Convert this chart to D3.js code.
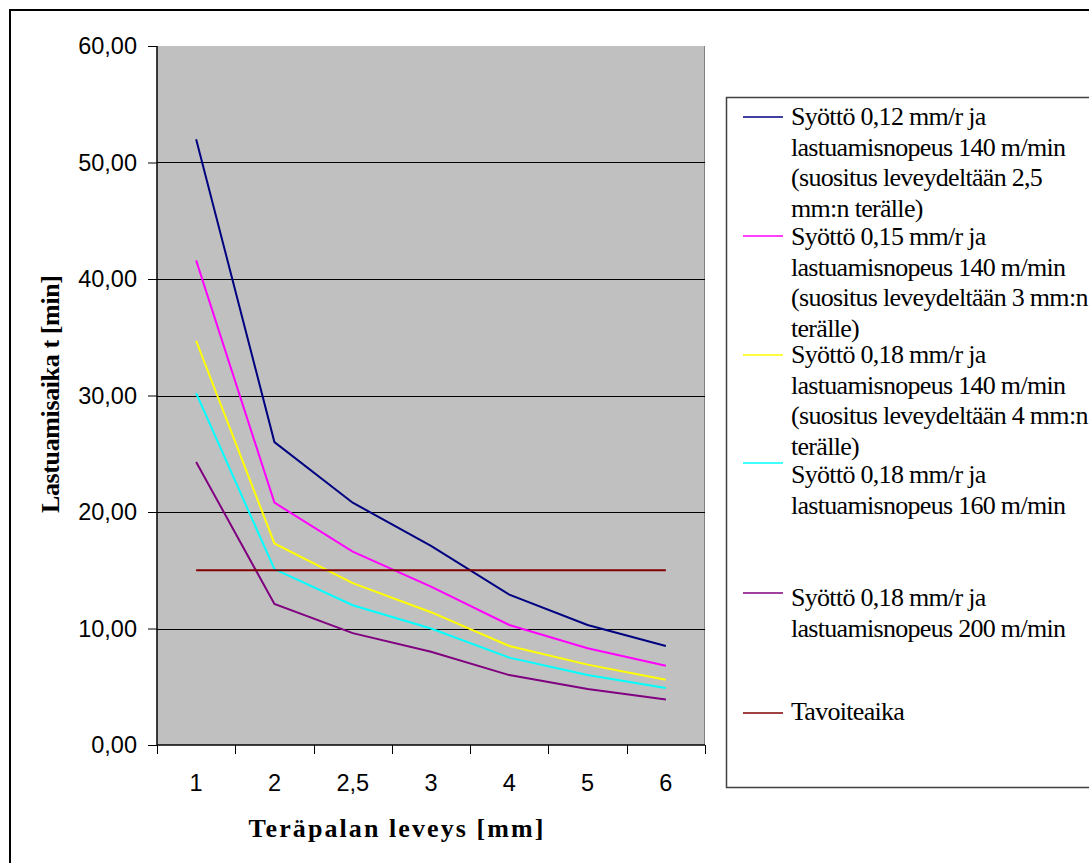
<!DOCTYPE html>
<html>
<head>
<meta charset="utf-8">
<script src="https://cdn.jsdelivr.net/npm/d3@7/dist/d3.min.js"></script>
<style>
  html, body { margin: 0; padding: 0; background: #fff; overflow: hidden; }
  svg { display: block; }
</style>
</head>
<body>
<script>
// Cutting time as a function of insert width
const widths = ["1", "2", "2,5", "3", "4", "5", "6"];
const feed012v140 = [52.0, 26.0, 20.8, 17.1, 12.9, 10.3, 8.5];
const feed015v140 = [41.6, 20.8, 16.6, 13.6, 10.3, 8.3, 6.8];
const feed018v140 = [34.7, 17.3, 13.9, 11.4, 8.5, 6.9, 5.6];
const feed018v160 = [30.2, 15.1, 12.0, 10.0, 7.5, 6.0, 4.9];
const feed018v200 = [24.3, 12.1, 9.6, 8.0, 6.0, 4.8, 3.9];
const targetTime  = [15, 15, 15, 15, 15, 15, 15];
const yTicks = [0, 10, 20, 30, 40, 50, 60];

const seriesNames = [
  ["Syöttö 0,12 mm/r ja", "lastuamisnopeus 140 m/min", "(suositus leveydeltään 2,5", "mm:n terälle)"],
  ["Syöttö 0,15 mm/r ja", "lastuamisnopeus 140 m/min", "(suositus leveydeltään 3 mm:n", "terälle)"],
  ["Syöttö 0,18 mm/r ja", "lastuamisnopeus 140 m/min", "(suositus leveydeltään 4 mm:n", "terälle)"],
  ["Syöttö 0,18 mm/r ja", "lastuamisnopeus 160 m/min"],
  ["Syöttö 0,18 mm/r ja", "lastuamisnopeus 200 m/min"],
  ["Tavoiteaika"]
];
const seriesValues = [feed012v140, feed015v140, feed018v140, feed018v160, feed018v200, targetTime];
const seriesColors = ["#000080", "#FF00FF", "#FFFF00", "#00FFFF", "#800080", "#800000"];

// Layout
const W = 1089, H = 863;
const plot = { left: 157, right: 705, top: 46, bottom: 745 };
const legendBox = { x: 726, y: 97, w: 400, h: 690 };
const legendSampleY = [117, 236, 355, 463, 593, 713];
const legendTextY = [125, 245, 363, 483, 606, 720];
const legendLineGap = 30.5;

const svg = d3.select("body").append("svg").attr("width", W).attr("height", H);

// Outer chart frame
svg.append("rect")
  .attr("x", 10).attr("y", 10).attr("width", W + 20).attr("height", H + 20)
  .attr("fill", "#fff").attr("stroke", "#000").attr("stroke-width", 2);

const x = d3.scaleBand().domain(widths).range([plot.left, plot.right]).padding(0);
const y = d3.scaleLinear().domain([0, 60]).range([plot.bottom, plot.top]);

// Plot area background
svg.append("rect")
  .attr("x", plot.left).attr("y", plot.top)
  .attr("width", plot.right - plot.left).attr("height", plot.bottom - plot.top)
  .attr("fill", "#C0C0C0");
svg.append("line")
  .attr("x1", plot.right - 0.5).attr("x2", plot.right - 0.5)
  .attr("y1", plot.top).attr("y2", plot.bottom)
  .attr("stroke", "#808080").attr("stroke-width", 1);

// Horizontal gridlines
svg.append("g").selectAll("line")
  .data(yTicks.filter(t => t > 0 && t < 60))
  .join("line")
  .attr("x1", plot.left).attr("x2", plot.right)
  .attr("y1", d => Math.round(y(d)) + 0.5).attr("y2", d => Math.round(y(d)) + 0.5)
  .attr("stroke", "#000").attr("stroke-width", 1);

// Y axis
const yAxis = d3.axisLeft(y)
  .tickValues(yTicks)
  .tickSize(9)
  .tickPadding(11)
  .tickFormat(d => d3.format(".2f")(d).replace(".", ","));
const gy = svg.append("g").attr("transform", `translate(${plot.left},0)`).call(yAxis);
gy.select(".domain").attr("stroke", "#000").attr("stroke-width", 1.5).attr("d", `M0,${plot.top}V${plot.bottom}`);
gy.selectAll(".tick line").attr("stroke", "#000");
gy.selectAll(".tick text")
  .attr("font-family", "Liberation Sans, Arial, sans-serif")
  .attr("font-size", 23.5).attr("fill", "#000");

// X axis with ticks between categories
const xAxisG = svg.append("g").attr("transform", `translate(0,${plot.bottom})`);
xAxisG.append("line")
  .attr("x1", plot.left).attr("x2", plot.right)
  .attr("y1", 0).attr("y2", 0)
  .attr("stroke", "#000").attr("stroke-width", 1.5);
const boundaries = widths.map(w => x(w)).concat([x(widths[widths.length - 1]) + x.bandwidth()]);
xAxisG.selectAll("line.tk").data(boundaries).join("line").attr("class", "tk")
  .attr("x1", d => Math.round(d) + 0.5).attr("x2", d => Math.round(d) + 0.5)
  .attr("y1", 0).attr("y2", 9).attr("stroke", "#000");
xAxisG.selectAll("text").data(widths).join("text")
  .attr("x", d => x(d) + x.bandwidth() / 2)
  .attr("y", 46)
  .attr("text-anchor", "middle")
  .attr("font-family", "Liberation Sans, Arial, sans-serif")
  .attr("font-size", 23.5).attr("fill", "#000")
  .text(d => d);

// Axis titles
svg.append("text")
  .attr("x", 396).attr("y", 837)
  .attr("text-anchor", "middle")
  .attr("font-family", "Liberation Serif, Times New Roman, serif")
  .attr("font-weight", "bold").attr("font-size", 26)
  .attr("textLength", 295).attr("lengthAdjust", "spacing")
  .text("Teräpalan leveys [mm]");
svg.append("text")
  .attr("transform", "translate(59,394) rotate(-90)")
  .attr("text-anchor", "middle")
  .attr("font-family", "Liberation Serif, Times New Roman, serif")
  .attr("font-weight", "bold").attr("font-size", 26)
  .attr("textLength", 238).attr("lengthAdjust", "spacing")
  .text("Lastuamisaika t [min]");

// Series lines
const line = d3.line()
  .x((d, i) => x(widths[i]) + x.bandwidth() / 2)
  .y(d => y(d));
svg.append("g").selectAll("path")
  .data(seriesValues)
  .join("path")
  .attr("d", d => line(d))
  .attr("fill", "none")
  .attr("stroke", (d, i) => seriesColors[i])
  .attr("stroke-width", 2)
  .attr("stroke-linejoin", "miter");

// Legend
svg.append("rect")
  .attr("x", legendBox.x + 0.5).attr("y", legendBox.y + 0.5)
  .attr("width", legendBox.w).attr("height", legendBox.h)
  .attr("fill", "#fff").attr("stroke", "#404040").attr("stroke-width", 1.5);
const entries = svg.append("g").selectAll("g")
  .data(seriesNames)
  .join("g");
entries.append("line")
  .attr("x1", 743).attr("x2", 783)
  .attr("y1", (d, i) => legendSampleY[i]).attr("y2", (d, i) => legendSampleY[i])
  .attr("stroke", (d, i) => seriesColors[i]).attr("stroke-width", 1.5);
entries.append("text")
  .attr("font-family", "Liberation Serif, Times New Roman, serif")
  .attr("font-size", 26).attr("letter-spacing", -0.7).attr("fill", "#000")
  .each(function(d, i) {
    d3.select(this).selectAll("tspan")
      .data(d)
      .join("tspan")
      .attr("x", 791)
      .attr("y", (t, j) => legendTextY[i] + j * legendLineGap)
      .text(t => t);
  });
</script>
</body>
</html>
